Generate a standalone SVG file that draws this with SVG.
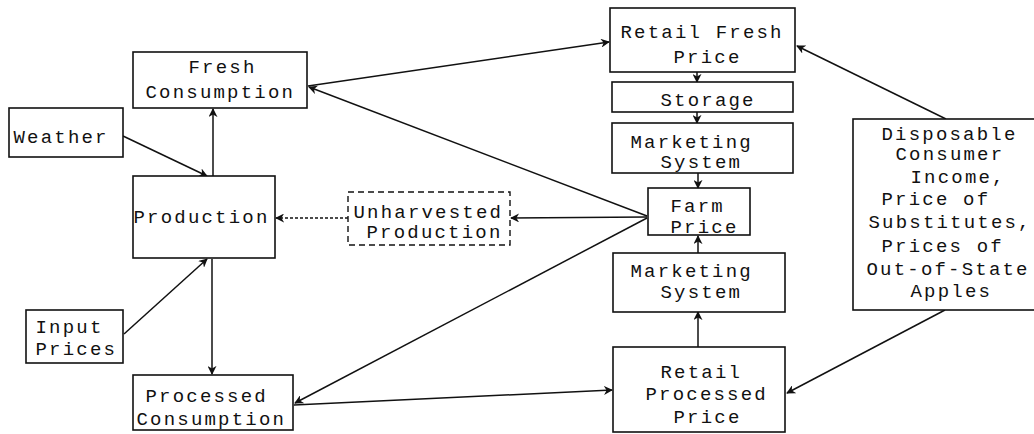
<svg xmlns="http://www.w3.org/2000/svg" width="1034" height="434" viewBox="0 0 1034 434">
<style>
.box{fill:#fff;stroke:#111;stroke-width:1.6}
.dash{fill:#fff;stroke:#111;stroke-width:1.4;stroke-dasharray:6 4}
.t{font-family:"Liberation Mono","DejaVu Sans Mono",monospace;font-size:19px;letter-spacing:2.2px;fill:#111}
.c{fill:none;stroke:#111;stroke-width:1.5}
.cd{fill:none;stroke:#111;stroke-width:1.3;stroke-dasharray:3 2}
</style>
<defs>
<marker id="ah" viewBox="0 0 10 10" refX="9" refY="5" markerWidth="9" markerHeight="9" markerUnits="userSpaceOnUse" orient="auto">
<path d="M0,0 L10,5 L0,10 L3,5 Z" fill="#111"/>
</marker>
</defs>
<rect width="1034" height="434" fill="#fff"/>
<g id="connectors">
<line class="c" x1="308" y1="86" x2="609" y2="42" marker-end="url(#ah)"/>
<line class="c" x1="647" y1="216" x2="309" y2="87" marker-end="url(#ah)"/>
<line class="c" x1="647" y1="217" x2="511" y2="218" marker-end="url(#ah)"/>
<line class="cd" x1="348" y1="218" x2="276" y2="218" marker-end="url(#ah)"/>
<line class="c" x1="123" y1="136" x2="207" y2="176" marker-end="url(#ah)"/>
<line class="c" x1="213" y1="176" x2="213" y2="109" marker-end="url(#ah)"/>
<line class="c" x1="124" y1="334" x2="207" y2="259" marker-end="url(#ah)"/>
<line class="c" x1="212" y1="259" x2="212" y2="374" marker-end="url(#ah)"/>
<line class="c" x1="647" y1="218" x2="295" y2="403" marker-end="url(#ah)"/>
<line class="c" x1="294" y1="405" x2="612" y2="390" marker-end="url(#ah)"/>
<line class="c" x1="697" y1="72" x2="697" y2="82" marker-end="url(#ah)"/>
<line class="c" x1="697" y1="112" x2="697" y2="123" marker-end="url(#ah)"/>
<line class="c" x1="698" y1="173" x2="698" y2="188" marker-end="url(#ah)"/>
<line class="c" x1="698" y1="253" x2="698" y2="236" marker-end="url(#ah)"/>
<line class="c" x1="698" y1="347" x2="698" y2="312" marker-end="url(#ah)"/>
<line class="c" x1="946" y1="119" x2="797" y2="46" marker-end="url(#ah)"/>
<line class="c" x1="945" y1="310" x2="787" y2="393" marker-end="url(#ah)"/>
</g>
<g id="fresh-consumption">
<rect class="box" x="133" y="52" width="174" height="56"/>
<text class="t" x="188.5" y="73">Fresh</text>
<text class="t" x="145.5" y="98">Consumption</text>
</g>
<g id="weather">
<rect class="box" x="9" y="108" width="114" height="49"/>
<text class="t" x="13.5" y="143">Weather</text>
</g>
<g id="production">
<rect class="box" x="133" y="176" width="142" height="82"/>
<text class="t" x="133.5" y="223">Production</text>
</g>
<g id="input-prices">
<rect class="box" x="26" y="310" width="97" height="53"/>
<text class="t" x="35.5" y="333">Input</text>
<text class="t" x="35.5" y="355">Prices</text>
</g>
<g id="processed-consumption">
<rect class="box" x="133" y="375" width="160" height="55"/>
<text class="t" x="145.5" y="402">Processed</text>
<text class="t" x="136.5" y="425">Consumption</text>
</g>
<g id="unharvested-production">
<rect class="dash" x="348" y="192" width="162" height="53"/>
<text class="t" x="353.5" y="218">Unharvested</text>
<text class="t" x="366.5" y="238">Production</text>
</g>
<g id="retail-fresh-price">
<rect class="box" x="610" y="8" width="185" height="64"/>
<text class="t" x="620.5" y="38">Retail Fresh</text>
<text class="t" x="673.5" y="63">Price</text>
</g>
<g id="storage">
<rect class="box" x="612" y="82" width="181" height="30"/>
<text class="t" x="660.5" y="106">Storage</text>
</g>
<g id="marketing-system-top">
<rect class="box" x="612" y="123" width="181" height="50"/>
<text class="t" x="630.5" y="148">Marketing</text>
<text class="t" x="660.5" y="168">System</text>
</g>
<g id="farm-price">
<rect class="box" x="648" y="188" width="102" height="47"/>
<text class="t" x="670.5" y="212">Farm</text>
<text class="t" x="670.5" y="233">Price</text>
</g>
<g id="marketing-system-bottom">
<rect class="box" x="613" y="253" width="172" height="59"/>
<text class="t" x="630.5" y="277">Marketing</text>
<text class="t" x="660.5" y="298">System</text>
</g>
<g id="retail-processed-price">
<rect class="box" x="613" y="347" width="172" height="85"/>
<text class="t" x="660.5" y="378">Retail</text>
<text class="t" x="645.5" y="400">Processed</text>
<text class="t" x="673.5" y="423">Price</text>
</g>
<g id="exogenous">
<rect class="box" x="853" y="119" width="200" height="191"/>
<text class="t" x="881.5" y="140">Disposable</text>
<text class="t" x="895.5" y="160">Consumer</text>
<text class="t" x="910.5" y="183">Income,</text>
<text class="t" x="881.5" y="205">Price of</text>
<text class="t" x="868.5" y="228">Substitutes,</text>
<text class="t" x="881.5" y="252">Prices of</text>
<text class="t" x="866.5" y="275">Out-of-State</text>
<text class="t" x="910.5" y="297">Apples</text>
</g>
</svg>
